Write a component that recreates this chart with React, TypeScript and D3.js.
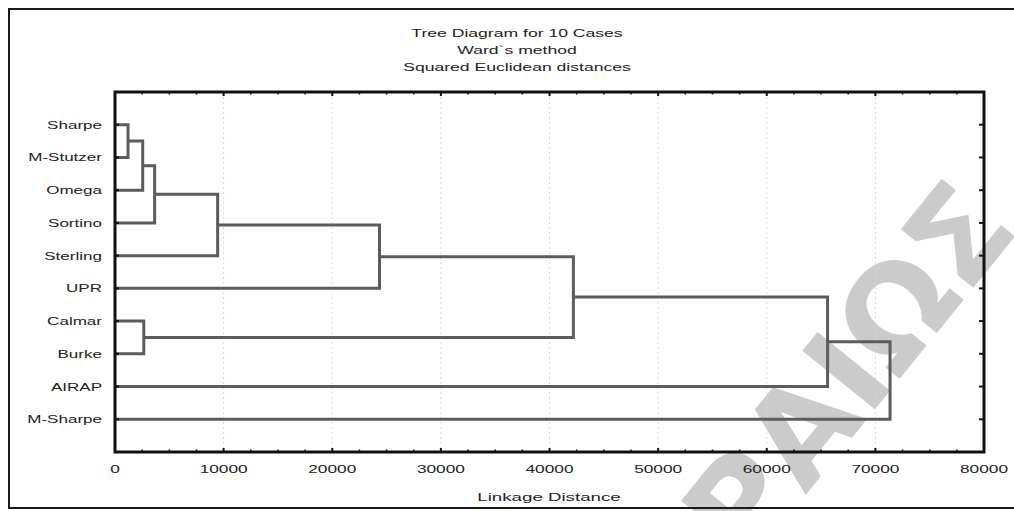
import React from "react";
import * as d3 from "d3";

// Cases, in dendrogram order (top to bottom)
const cases = ["Sharpe", "M-Stutzer", "Omega", "Sortino", "Sterling", "UPR", "Calmar", "Burke", "AIRAP", "M-Sharpe"];

// Ward linkage steps: ids 0-9 are the cases, merge k creates cluster 10 + k
const mergeLeft = [0, 10, 6, 11, 13, 14, 15, 16, 17];
const mergeRight = [1, 2, 7, 3, 4, 5, 12, 8, 9];
const mergeDistance = [1200, 2550, 2650, 3650, 9450, 24350, 42200, 65600, 71350];

const xTicks = [0, 10000, 20000, 30000, 40000, 50000, 60000, 70000, 80000];
const titleLines = ["Tree Diagram for 10 Cases", "Ward`s method", "Squared Euclidean distances"];
const xTitle = "Linkage Distance";

const W = 1014;
const H = 511;
const plot = { left: 115, right: 984, top: 92, bottom: 452 };
const SX = 1.6; // wide lettering of the original export

const font = "'Liberation Sans', Arial, sans-serif";

function WideText({ x, y, children, anchor = "middle", sx = SX, size = 11 }: any) {
  return (
    <g transform={`translate(${x},${y}) scale(${sx},1)`}>
      <text x={0} y={0} textAnchor={anchor} fontFamily={font} fontSize={size} fill="#222">
        {children}
      </text>
    </g>
  );
}

export default function App() {
  const x = d3.scaleLinear().domain([0, 80000]).range([plot.left, plot.right]);
  const y = d3.scalePoint<string>().domain(cases).range([plot.top, plot.bottom]).padding(1);

  // node positions: [yPos, height]
  const nodeY: number[] = cases.map((c) => y(c) as number);
  const nodeH: number[] = cases.map(() => 0);
  const links: string[] = [];
  mergeLeft.forEach((a, k) => {
    const b = mergeRight[k];
    const h = mergeDistance[k];
    const ya = nodeY[a];
    const yb = nodeY[b];
    const p = d3.path();
    p.moveTo(x(nodeH[a]), ya);
    p.lineTo(x(h), ya);
    p.lineTo(x(h), yb);
    p.lineTo(x(nodeH[b]), yb);
    links.push(p.toString());
    nodeY.push((ya + yb) / 2);
    nodeH.push(h);
  });

  const minor = d3.range(0, 80001, 2500).filter((v) => v % 10000 !== 0);

  return (
    <svg width={W} height={H} style={{ position: "absolute", left: 0, top: 0, background: "#fff" }}>
      {/* repository watermark */}
      <text
        transform="translate(1021,229) rotate(-51)"
        textAnchor="end"
        fontFamily="'DejaVu Sans', sans-serif"
        fontWeight="bold"
        fontSize={128}
        fill="#cbcbcb"
      >
        ΠΕΙΡΑΙΩΣ
      </text>

      {/* outer frame */}
      <rect x={9} y={9} width={1030} height={499} fill="none" stroke="#1a1a1a" strokeWidth={2} />

      {/* titles */}
      {titleLines.map((t, i) => (
        <WideText key={t} x={517} y={37 + i * 17}>
          {t}
        </WideText>
      ))}

      {/* grid */}
      {xTicks.slice(1, -1).map((v) => (
        <line key={v} x1={x(v)} x2={x(v)} y1={plot.top} y2={plot.bottom} stroke="#d8d8d8" strokeWidth={1} strokeDasharray="2,3" />
      ))}

      {/* dendrogram */}
      {links.map((d, i) => (
        <path key={i} d={d} fill="none" stroke="#5c5c5c" strokeWidth={3} />
      ))}

      {/* axis ticks */}
      {xTicks.map((v) => (
        <g key={"M" + v}>
          <line x1={x(v)} x2={x(v)} y1={plot.bottom} y2={plot.bottom - 4} stroke="#111" strokeWidth={2} />
          <line x1={x(v)} x2={x(v)} y1={plot.top} y2={plot.top + 4} stroke="#111" strokeWidth={2} />
        </g>
      ))}
      {minor.map((v) => (
        <g key={"m" + v}>
          <line x1={x(v)} x2={x(v)} y1={plot.bottom} y2={plot.bottom - 2.5} stroke="#111" strokeWidth={1.5} />
          <line x1={x(v)} x2={x(v)} y1={plot.top} y2={plot.top + 2.5} stroke="#111" strokeWidth={1.5} />
        </g>
      ))}
      {cases.map((c) => (
        <g key={"t" + c}>
          <line x1={plot.left} x2={plot.left + 4} y1={y(c)} y2={y(c)} stroke="#111" strokeWidth={2} />
          <line x1={plot.right} x2={plot.right - 5} y1={y(c)} y2={y(c)} stroke="#111" strokeWidth={2} />
        </g>
      ))}

      {/* plot frame */}
      <rect
        x={plot.left}
        y={plot.top}
        width={plot.right - plot.left}
        height={plot.bottom - plot.top}
        fill="none"
        stroke="#111"
        strokeWidth={3}
      />

      {/* case labels */}
      {cases.map((c) => (
        <WideText key={"l" + c} x={102} y={(y(c) as number) + 4} anchor="end" sx={1.55}>
          {c}
        </WideText>
      ))}

      {/* x tick labels */}
      {xTicks.map((v) => (
        <WideText key={"x" + v} x={x(v)} y={473} sx={1.57}>
          {String(v)}
        </WideText>
      ))}

      <WideText x={549} y={501} sx={1.7}>
        {xTitle}
      </WideText>
    </svg>
  );
}
